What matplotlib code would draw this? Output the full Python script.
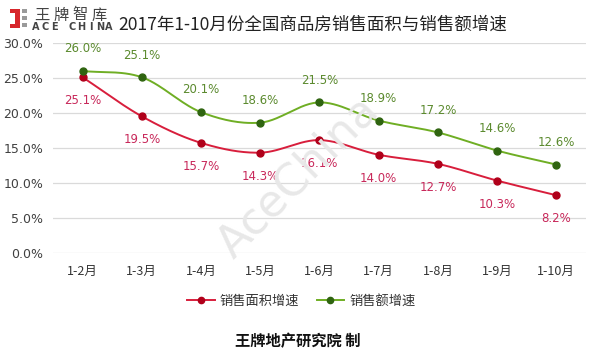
import numpy as np
import matplotlib
matplotlib.use('Agg')
import matplotlib.pyplot as plt
from matplotlib.patches import Rectangle

plt.rcParams['font.family'] = ['Noto Sans CJK SC', 'DejaVu Sans']

# data
months = ['1-2月', '1-3月', '1-4月', '1-5月', '1-6月', '1-7月', '1-8月', '1-9月', '1-10月']
area_growth = [25.1, 19.5, 15.7, 14.3, 16.1, 14.0, 12.7, 10.3, 8.2]
sales_growth = [26.0, 25.1, 20.1, 18.6, 21.5, 18.9, 17.2, 14.6, 12.6]
series_names = ['销售面积增速', '销售额增速']
title = '2017年1-10月份全国商品房销售面积与销售额增速'

RED_LINE, RED_DOT, RED_TXT = '#D81E3C', '#B0001A', '#C8285A'
GRN_LINE, GRN_DOT, GRN_TXT = '#6FAE24', '#2F6410', '#5B8A2E'


def smooth(x, y, n=30):
    """Catmull-Rom curve through the points (like spreadsheet 'smoothed line')."""
    x = np.asarray(x, float); y = np.asarray(y, float)
    px = np.concatenate([[2 * x[0] - x[1]], x, [2 * x[-1] - x[-2]]])
    py = np.concatenate([[2 * y[0] - y[1]], y, [2 * y[-1] - y[-2]]])
    xs, ys = [], []
    t = np.linspace(0, 1, n)
    for i in range(1, len(px) - 2):
        for p, out in ((px, xs), (py, ys)):
            p0, p1, p2, p3 = p[i - 1], p[i], p[i + 1], p[i + 2]
            out.append(0.5 * ((2 * p1) + (-p0 + p2) * t
                              + (2 * p0 - 5 * p1 + 4 * p2 - p3) * t ** 2
                              + (-p0 + 3 * p1 - 3 * p2 + p3) * t ** 3))
    return np.concatenate(xs), np.concatenate(ys)


fig = plt.figure(figsize=(5.96, 3.55), dpi=100)
ax = fig.add_axes([0.089, 0.2887, 0.894, 0.590])

x = np.arange(len(months))
for vals, lc, dc, tc, off, name in (
        (area_growth, RED_LINE, RED_DOT, RED_TXT, -17, series_names[0]),
        (sales_growth, GRN_LINE, GRN_DOT, GRN_TXT, 16, series_names[1])):
    sx, sy = smooth(x, vals)
    ax.plot(sx, sy, color=lc, lw=1.4, zorder=3)
    ax.plot(x, vals, 'o', color=dc, ms=5, zorder=4)
    ax.plot([], [], '-o', color=lc, mfc=dc, mec=dc, ms=4.5, lw=1.4, label=name)
    for xi, v in zip(x, vals):
        ax.annotate(f'{v:.1f}%', (xi, v), xytext=(0, off), textcoords='offset points',
                    ha='center', va='center', fontsize=8.5, color=tc,
                    family='DejaVu Sans', zorder=5)

ax.set_xlim(-0.5, 8.5)
ax.set_ylim(0, 30)
ax.set_yticks(np.arange(0, 31, 5))
ax.set_yticklabels([f'{v:.1f}%' for v in np.arange(0, 31, 5)], family='DejaVu Sans',
                   fontsize=9, color='#404040')
ax.set_xticks(x)
ax.set_xticklabels(months, fontsize=9, color='#333333')
ax.tick_params(length=0)
ax.tick_params(axis='x', pad=9)
ax.tick_params(axis='y', pad=7)
ax.grid(axis='y', color='#DADADA', lw=0.9)
ax.set_axisbelow(True)
for s in ax.spines.values():
    s.set_visible(False)

leg = ax.legend(loc='upper center', bbox_to_anchor=(0.466, -0.145), ncol=2, frameon=False,
                fontsize=9.5, handlelength=2.1, columnspacing=1.3, handletextpad=0.4)
for t in leg.get_texts():
    t.set_color('#333333')

# watermark
fig.text(0.50, 0.50, 'AceChina', rotation=45, fontsize=32, color='#E8E8E8',
         ha='center', va='center', family='DejaVu Sans', zorder=0)

W, H = 596, 355
fig.text(313 / W, 1 - 25 / H, title, ha='center', va='center', fontsize=12.6, color='#222222')
fig.text(298 / W, 1 - 341 / H, '王牌地产研究院 制', ha='center', va='center', fontsize=11,
         fontweight='bold', color='#111111')


# logo
def box(x0, y0, w, h, c):
    fig.patches.append(Rectangle((x0 / W, 1 - (y0 + h) / H), w / W, h / H,
                                 transform=fig.transFigure, color=c, lw=0))


box(10, 9, 9, 4, '#D7262B')
box(15, 9, 5, 19, '#D7262B')
box(10, 24, 10, 4, '#D7262B')
for yy in (9, 16, 23):
    box(22, yy, 5, 4, '#9A9A9A')
for i, ch in enumerate('王牌智库'):
    fig.text((42 + 19 * i) / W, 1 - 15 / H, ch, fontsize=11, color='#444444',
             va='center', ha='center')
for i, ch in enumerate('ACE CHINA'):
    fig.text((36 + 9.1 * i) / W, 1 - 27 / H, ch, fontsize=7, color='#444444',
             fontweight='bold', va='center', ha='center', family='DejaVu Sans')

fig.savefig('out.png', dpi=100)
